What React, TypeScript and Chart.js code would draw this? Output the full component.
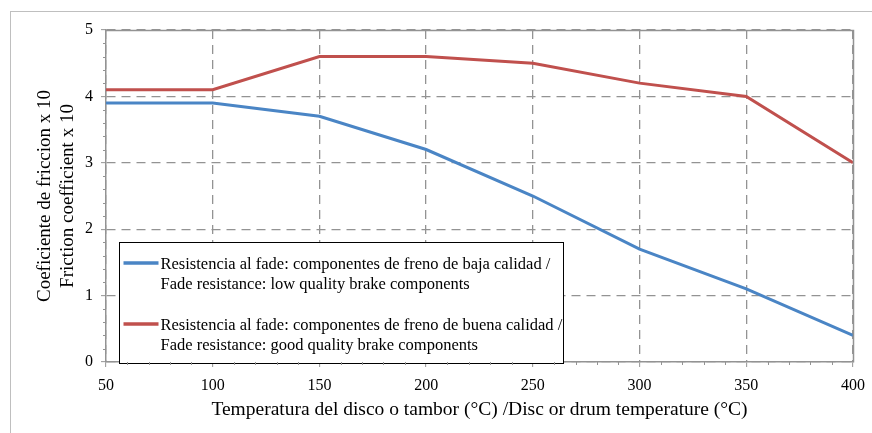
import React, { useEffect, useRef } from "react";
import { Chart, registerables } from "chart.js";

Chart.register(...registerables);

const temperatures = [50, 100, 150, 200, 250, 300, 350, 400];
const lowQuality = [3.9, 3.9, 3.7, 3.2, 2.5, 1.7, 1.1, 0.4];
const goodQuality = [4.1, 4.1, 4.6, 4.6, 4.5, 4.2, 4.0, 3.0];
const seriesLabels = [
  ["Resistencia al fade: componentes de freno de baja calidad /", "Fade resistance: low quality brake components"],
  ["Resistencia al fade: componentes de freno de buena calidad /", "Fade resistance: good quality brake components"],
];
const yTitle = ["Coeficiente de friccion x 10", "Friction coefficient x 10"];
const xTitle = "Temperatura del disco o tambor (°C) /Disc or drum temperature (°C)";

const FONT = "'Liberation Serif', 'Times New Roman', serif";
const GRID = "#939393";

const framePlugin = {
  id: "frame",
  beforeDraw(chart: any) {
    const { ctx, width, height } = chart;
    ctx.save();
    ctx.fillStyle = "#ffffff";
    ctx.fillRect(0, 0, width, height);
    ctx.strokeStyle = "#bfbfbf";
    ctx.lineWidth = 1;
    ctx.strokeRect(10.5, 11.5, width + 20, height + 20);
    ctx.restore();
  },
  afterDraw(chart: any) {
    const { ctx, chartArea: a, scales } = chart;
    const xs = scales.x;
    const ys = scales.y;
    ctx.save();
    ctx.strokeStyle = GRID;
    ctx.lineWidth = 1.5;
    ctx.setLineDash([]);
    const top = Math.round(ys.getPixelForValue(5)) + 0.5;
    const right = Math.round(xs.getPixelForValue(400)) + 0.5;
    const bottom = Math.round(a.bottom) + 0.5;
    ctx.beginPath();
    ctx.moveTo(Math.round(a.left), top);
    ctx.lineTo(right, top);
    ctx.lineTo(right, bottom);
    ctx.stroke();

    // legend box
    const bx = Math.round(a.left) + 13.5;
    const by = 242.5;
    const bw = 444;
    const bh = Math.round(a.bottom) + 1 - 242;
    ctx.fillStyle = "#ffffff";
    ctx.fillRect(bx, by, bw, bh);
    ctx.strokeStyle = "#000000";
    ctx.lineWidth = 1;
    ctx.strokeRect(bx, by, bw, bh);
    const entryY = [263, 324];
    chart.data.datasets.forEach((ds: any, i: number) => {
      const ly = entryY[i];
      ctx.strokeStyle = ds.borderColor;
      ctx.lineWidth = 3.5;
      ctx.beginPath();
      ctx.moveTo(bx + 4, ly);
      ctx.lineTo(bx + 39, ly);
      ctx.stroke();
      ctx.fillStyle = "#000000";
      ctx.font = `16.5px ${FONT}`;
      ctx.textBaseline = "middle";
      ctx.textAlign = "left";
      const lines = seriesLabels[i];
      lines.forEach((t, j) => ctx.fillText(t, bx + 41, ly + 2 + j * 19.5));
    });

    // minor ticks
    ctx.strokeStyle = GRID;
    ctx.lineWidth = 1;
    ctx.beginPath();
    for (let k = 0; k <= 25; k++) {
      if (k % 5 === 0) continue;
      const py = Math.round(ys.getPixelForValue(k * 0.2)) + 0.5;
      ctx.moveTo(a.left - 3, py);
      ctx.lineTo(a.left, py);
    }
    for (let k = 0; k <= 35; k++) {
      if (k % 5 === 0) continue;
      const px = Math.round(xs.getPixelForValue(50 + k * 10)) + 0.5;
      ctx.moveTo(px, a.bottom);
      ctx.lineTo(px, a.bottom + 3);
    }
    ctx.stroke();
    ctx.restore();
  },
};

export default function App() {
  const ref = useRef<HTMLCanvasElement | null>(null);
  useEffect(() => {
    document.body.style.margin = "0";
    const canvas = ref.current;
    if (!canvas) return;
    const gridOpts = {
      color: GRID,
      lineWidth: 1.3,
      tickColor: GRID,
      tickLength: 5,
      tickWidth: 1,
      tickBorderDash: [],
    };
    const chart = new Chart(canvas, {
      type: "line",
      data: {
        datasets: [
          {
            label: seriesLabels[0].join(" "),
            data: temperatures.map((t, i) => ({ x: t, y: lowQuality[i] })),
            borderColor: "#4A85C5",
            backgroundColor: "#4A85C5",
            borderWidth: 3,
            pointRadius: 0,
            tension: 0,
          },
          {
            label: seriesLabels[1].join(" "),
            data: temperatures.map((t, i) => ({ x: t, y: goodQuality[i] })),
            borderColor: "#C0504D",
            backgroundColor: "#C0504D",
            borderWidth: 3,
            pointRadius: 0,
            tension: 0,
          },
        ],
      },
      options: {
        responsive: false,
        animation: false,
        devicePixelRatio: 1,
        layout: { padding: { left: 0, top: 30, right: 19, bottom: 0 } },
        plugins: { legend: { display: false }, tooltip: { enabled: false } },
        scales: {
          x: {
            type: "linear",
            min: 50,
            max: 400,
            afterFit: (s: any) => {
              s.height = 71;
              s.paddingLeft = 0;
              s.paddingRight = 0;
            },
            ticks: {
              stepSize: 50,
              color: "#000000",
              font: { family: FONT, size: 16 },
              padding: 9,
              maxRotation: 0,
            },
            grid: gridOpts,
            border: { display: true, color: GRID, width: 1.5, dash: [9, 6] },
            title: {
              display: true,
              text: xTitle,
              color: "#000000",
              font: { family: FONT, size: 19.5, lineHeight: 1.2 },
              padding: { top: 0, bottom: 11 },
            },
          },
          y: {
            type: "linear",
            min: 0,
            max: 5,
            afterFit: (s: any) => {
              s.width = 106;
              s.paddingTop = 0;
              s.paddingBottom = 0;
            },
            ticks: {
              stepSize: 1,
              color: "#000000",
              font: { family: FONT, size: 16 },
              padding: 8,
            },
            grid: gridOpts,
            border: { display: true, color: GRID, width: 1.5, dash: [9, 6] },
            title: {
              display: true,
              text: yTitle,
              color: "#000000",
              font: { family: FONT, size: 19, lineHeight: 1.21 },
              padding: { top: 33.5, bottom: 0 },
            },
          },
        },
      },
      plugins: [framePlugin],
    });
    return () => chart.destroy();
  }, []);
  return <canvas ref={ref} width={872} height={433} style={{ display: "block" }} />;
}
